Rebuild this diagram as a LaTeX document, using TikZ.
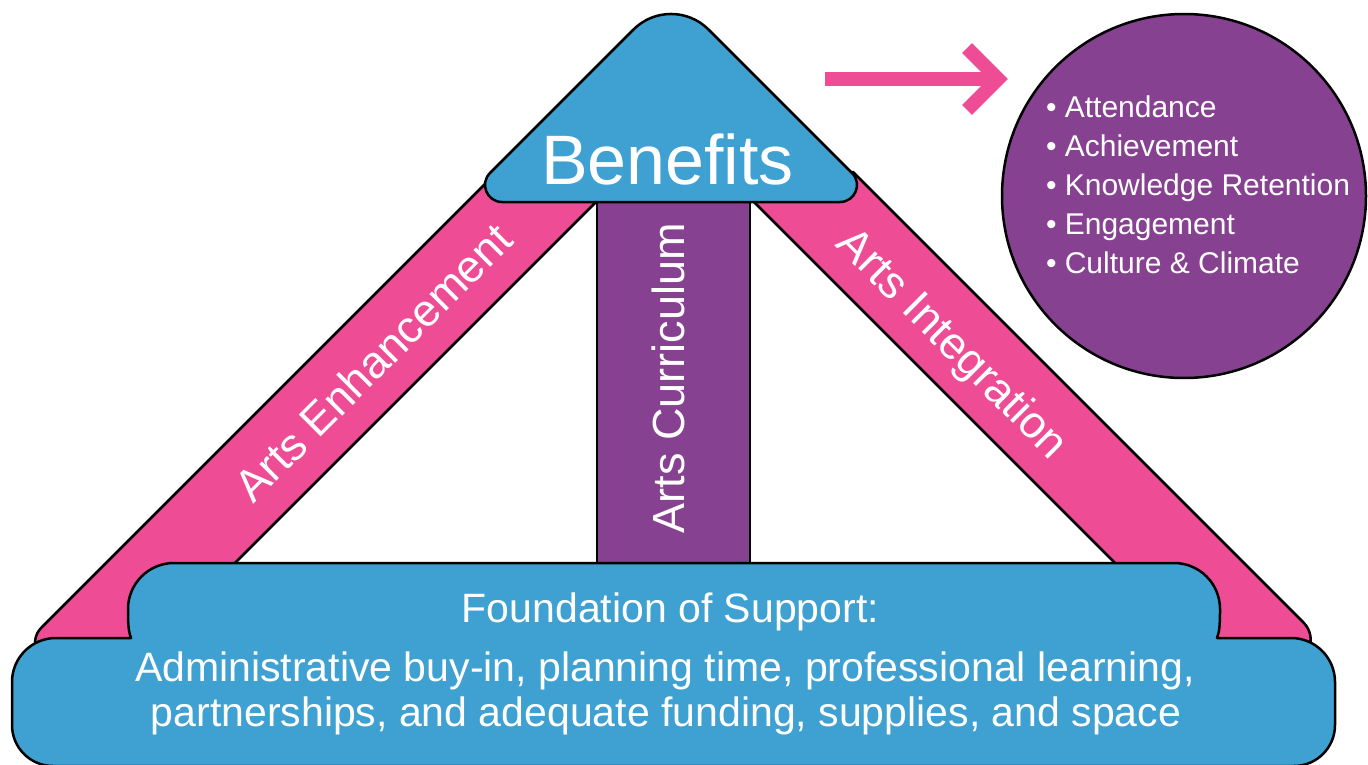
\documentclass[tikz,border=0pt]{standalone}
\usepackage{fontspec}
\setmainfont{Liberation Sans}
\definecolor{ablue}{HTML}{3EA1D2}
\definecolor{apink}{HTML}{EF4C96}
\definecolor{apurple}{HTML}{874191}
\begin{document}
\begin{tikzpicture}[x=1pt,y=-1pt,
  outl/.style={draw=black, line width=2.5pt, line join=round},
  pinkbar/.style={outl, fill=apink},
  purplebar/.style={outl, fill=apurple},
  bluebox/.style={outl, fill=ablue},
  lbl/.style={text=white, inner sep=0pt, outer sep=0pt},
  bigfont/.style={font=\fontsize{70}{84}\selectfont},
  barfont/.style={font=\fontsize{45}{54}\selectfont},
  basefont/.style={font=\fontsize{41}{45}\selectfont},
  bulfont/.style={font=\fontsize{30}{39}\selectfont},
  arrowline/.style={draw=apink, line width=14pt}]

\useasboundingbox (0,0) rectangle (1368,765);

% left pink bar (Arts Enhancement)
\path[pinkbar] (497,172) -- (626,172) -- (133,665) -- (57.1,665)
  .. controls (37.5,665) and (27.6,641.4) .. (41.5,627.5) -- cycle;
% right pink bar (Arts Integration)
\path[pinkbar] (724,172) -- (853,172) -- (1303.3,622.3)
  .. controls (1319.1,638.1) and (1307.9,665) .. (1285.6,665) -- (1217,665) -- cycle;
% purple bar (Arts Curriculum)
\path[purplebar] (597,190) rectangle (750,600);

% Benefits triangle
\path[bluebox] (502,202) .. controls (486.9,202) and (479.3,183.7) .. (490,173)
  -- (633.5,29.5) .. controls (654.2,8.8) and (687.8,8.8) .. (708.5,29.5)
  -- (852,173) .. controls (862.7,183.7) and (855.1,202) .. (840,202) -- cycle;

% Foundation
\path[bluebox] (12,725) -- (12,682) arc[start angle=180, end angle=270, radius=44]
  -- (131,638) .. controls (128.6,632) and (128,624) .. (128,612)
  -- (128,609) arc[start angle=180, end angle=270, radius=46]
  -- (1174,563) arc[start angle=270, end angle=360, radius=46]
  -- (1220,612) .. controls (1220,624) and (1219.4,632) .. (1217,638)
  -- (1291,638) arc[start angle=270, end angle=360, radius=44]
  -- (1335,725) arc[start angle=0, end angle=90, radius=41]
  -- (53,766) arc[start angle=90, end angle=180, radius=41] -- cycle;

% texts
\node[lbl, bigfont, anchor=base] (benefits) at (667.5,184.3) {Benefits};
\node[lbl, barfont, rotate=45] (enh) at (373,362.5) {Arts Enhancement};
\node[lbl, barfont, rotate=90] (cur) at (668.5,378) {Arts Curriculum};
\node[lbl, barfont, rotate=-45] (integ) at (951,345) {Arts Integration};
\node[lbl, basefont, anchor=base] (ftitle) at (670.4,622.7) {Foundation of Support:};
\node[lbl, basefont, anchor=base] (fline1) at (665,681.7) {Administrative buy-in, planning time, professional learning,};
\node[lbl, basefont, anchor=base] (fline2) at (666,726.7) {partnerships, and adequate funding, supplies, and space};

% outcomes circle
\node[circle, outl, fill=apurple, minimum size=364pt, inner sep=0pt] (outc) at (1184,196) {};
\node[lbl, bulfont, anchor=base west] (b1) at (1046,117.3) {• Attendance};
\node[lbl, bulfont, anchor=base west] (b2) at (1046,156.3) {• Achievement};
\node[lbl, bulfont, anchor=base west] (b3) at (1046,195.3) {• Knowledge Retention};
\node[lbl, bulfont, anchor=base west] (b4) at (1046,234.3) {• Engagement};
\node[lbl, bulfont, anchor=base west] (b5) at (1046,273.3) {• Culture \& Climate};

% arrow
\coordinate (arrS) at (825,79);
\coordinate (arrT) at (998,79);
\coordinate (arrU) at (967,48);
\coordinate (arrD) at (967,110);
\draw[arrowline] (arrS) -- (arrT);
\draw[arrowline, line join=miter] (arrU) -- (arrT) -- (arrD);
\end{tikzpicture}
\end{document}
